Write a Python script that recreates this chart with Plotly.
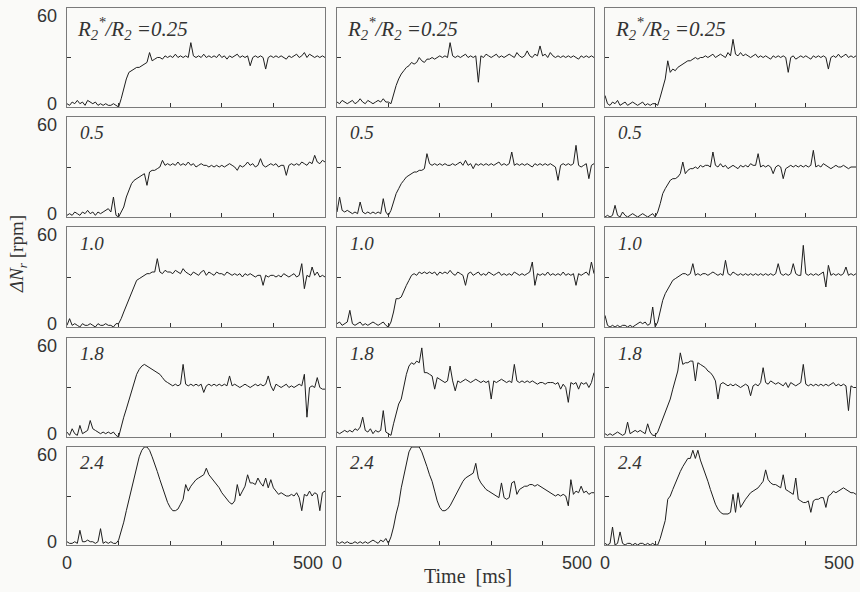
import plotly.graph_objects as go

# Sampling grid of the recorded speed deviation (ms)
time_ms = list(range(0, 501, 5))

# Panel captions: resistance ratio R2*/R2 for each row
ratio_labels = ["0.25", "0.5", "1.0", "1.8", "2.4"]

# Tick marks and labels
y_tick_marks = [30]
y_end_labels = [(0, "0"), (60, "60")]
x_tick_marks = [100, 200, 300, 400]
x_end_labels = [(0, "0"), (500, "500")]

# Speed deviation ΔNr [rpm], three runs (a, b, c) per ratio, sampled every 5 ms
r025_a = [2, 1, 3, 2, 4, 2, 3, 1, 4, 3, 2, 3, 1, 2, 1, 2, 1, 1, 2, 1,
          0, 5, 11, 17, 21, 22, 23, 24, 24, 25, 26, 27, 33, 28, 29, 30, 30, 29, 31, 30,
          31, 30, 32, 30, 31, 30, 31, 30, 39, 31, 30, 31, 30, 32, 30, 31, 30, 31, 30, 32,
          30, 31, 29, 31, 30, 31, 32, 30, 31, 30, 31, 25, 30, 31, 30, 31, 30, 23, 30, 31,
          30, 31, 30, 31, 30, 29, 31, 30, 31, 32, 30, 31, 33, 30, 32, 31, 30, 31, 30, 31, 30]
r025_b = [3, 2, 4, 3, 2, 3, 4, 2, 3, 5, 3, 2, 4, 3, 2, 3, 4, 3, 5, 3,
          3, 2, 8, 13, 17, 20, 22, 24, 25, 27, 26, 27, 30, 28, 27, 29, 29, 30, 29, 30,
          31, 30, 31, 30, 39, 31, 30, 31, 30, 31, 32, 30, 31, 30, 31, 15, 31, 30, 32, 31,
          30, 31, 32, 30, 31, 30, 31, 32, 31, 30, 33, 31, 30, 31, 34, 31, 30, 32, 31, 37,
          31, 32, 30, 33, 31, 30, 31, 30, 31, 30, 31, 30, 31, 30, 29, 31, 30, 31, 30, 31, 30]
r025_c = [7, 2, 1, 3, 2, 4, 1, 2, 3, 1, 2, 3, 2, 1, 2, 3, 1, 2, 1, 2,
          2, 1, 6, 12, 17, 28, 21, 23, 22, 24, 25, 26, 27, 28, 28, 29, 30, 29, 30, 30,
          31, 30, 31, 32, 30, 31, 32, 31, 30, 33, 31, 41, 32, 31, 33, 31, 32, 31, 30, 31,
          32, 30, 31, 30, 31, 30, 29, 31, 30, 31, 30, 31, 30, 21, 30, 31, 29, 30, 31, 30,
          31, 30, 29, 31, 30, 31, 30, 31, 30, 23, 30, 31, 30, 32, 30, 31, 32, 30, 31, 30, 31]

r05_a = [1, 2, 1, 3, 2, 1, 3, 2, 4, 2, 3, 1, 3, 2, 3, 4, 5, 3, 12, 1,
         0, 3, 6, 12, 16, 20, 22, 23, 24, 25, 26, 19, 27, 28, 28, 29, 30, 34, 31, 32,
         31, 32, 31, 33, 31, 32, 31, 33, 31, 32, 30, 31, 32, 31, 31, 30, 31, 30, 31, 30,
         31, 30, 31, 32, 31, 30, 28, 31, 30, 31, 33, 31, 32, 30, 31, 35, 31, 30, 31, 32,
         31, 32, 30, 31, 31, 25, 31, 32, 31, 32, 31, 33, 32, 31, 33, 32, 37, 33, 32, 34, 33]
r05_b = [3, 12, 4, 3, 4, 3, 2, 3, 2, 9, 3, 2, 3, 2, 3, 2, 3, 2, 11, 3,
         1, 4, 9, 14, 17, 20, 22, 24, 25, 26, 27, 27, 28, 28, 29, 38, 32, 31, 32, 31,
         32, 31, 32, 31, 31, 32, 31, 32, 33, 31, 34, 31, 32, 29, 32, 31, 32, 31, 32, 31,
         32, 31, 32, 33, 31, 32, 31, 32, 39, 31, 32, 31, 32, 31, 32, 31, 30, 32, 31, 32,
         31, 32, 31, 32, 31, 30, 22, 31, 32, 31, 32, 31, 32, 43, 31, 30, 31, 32, 23, 31, 32]
r05_c = [0, 1, 0, 1, 7, 1, 0, 3, 1, 0, 1, 2, 1, 0, 1, 2, 1, 0, 1, 2,
         0, 3, 8, 14, 17, 20, 22, 23, 23, 24, 26, 33, 26, 28, 29, 29, 30, 29, 31, 30,
         31, 31, 30, 39, 31, 30, 32, 30, 31, 29, 30, 31, 30, 29, 31, 30, 31, 30, 32, 31,
         31, 38, 30, 31, 30, 31, 30, 26, 30, 31, 30, 23, 29, 30, 31, 30, 31, 30, 31, 30,
         31, 30, 31, 40, 30, 31, 30, 32, 31, 30, 29, 30, 31, 30, 30, 31, 30, 29, 30, 30, 30]

r10_a = [1, 5, 1, 2, 1, 0, 2, 1, 1, 2, 1, 0, 2, 1, 1, 2, 1, 1, 0, 2,
         2, 5, 9, 13, 17, 21, 25, 28, 29, 30, 31, 32, 32, 33, 33, 41, 33, 32, 34, 33,
         33, 32, 34, 33, 32, 35, 33, 32, 31, 33, 32, 31, 33, 34, 31, 33, 32, 31, 33, 32,
         32, 31, 33, 32, 31, 32, 31, 32, 30, 32, 31, 32, 31, 30, 31, 31, 25, 31, 30, 31,
         31, 30, 31, 30, 32, 31, 30, 31, 32, 30, 31, 38, 23, 31, 30, 36, 31, 33, 30, 31, 30]
r10_b = [2, 3, 1, 2, 3, 10, 2, 1, 2, 3, 1, 2, 1, 2, 3, 2, 1, 2, 3, 1,
         0, 3, 9, 17, 17, 18, 22, 25, 28, 31, 32, 31, 33, 32, 33, 32, 33, 32, 33, 31,
         33, 32, 33, 32, 34, 32, 31, 33, 32, 31, 25, 32, 33, 31, 32, 33, 31, 32, 31, 33,
         32, 31, 32, 33, 31, 32, 31, 32, 31, 33, 32, 31, 32, 31, 32, 33, 39, 25, 32, 31,
         32, 31, 33, 31, 32, 31, 32, 31, 33, 31, 32, 31, 32, 25, 32, 31, 32, 33, 31, 39, 32]
r10_c = [7, 1, 0, 1, 0, 1, 0, 1, 1, 0, 1, 0, 1, 2, 3, 2, 3, 1, 2, 12,
         0, 3, 10, 16, 20, 23, 26, 28, 29, 30, 31, 32, 32, 31, 32, 38, 31, 32, 31, 32,
         32, 31, 32, 33, 32, 31, 32, 31, 40, 32, 31, 33, 32, 31, 32, 31, 32, 31, 32, 31,
         32, 31, 32, 31, 32, 31, 32, 31, 32, 38, 32, 31, 32, 31, 32, 38, 32, 31, 31, 49,
         32, 31, 32, 31, 32, 31, 32, 33, 24, 37, 31, 32, 31, 32, 31, 32, 36, 31, 32, 31, 32]

r18_a = [3, 1, 5, 2, 1, 7, 2, 3, 4, 10, 5, 4, 3, 2, 3, 2, 3, 2, 3, 1,
         0, 7, 12, 17, 22, 28, 33, 38, 41, 43, 44, 43, 42, 41, 40, 39, 38, 36, 34, 33,
         32, 31, 32, 31, 32, 44, 32, 31, 32, 31, 32, 31, 32, 27, 31, 32, 31, 32, 31, 32,
         31, 32, 31, 37, 31, 32, 31, 30, 31, 32, 31, 30, 31, 32, 31, 32, 31, 32, 37, 31,
         28, 32, 31, 30, 31, 32, 30, 31, 30, 31, 32, 31, 38, 12, 30, 31, 30, 36, 30, 29, 29]
r18_b = [3, 2, 3, 4, 3, 4, 3, 5, 4, 6, 12, 4, 3, 5, 2, 4, 3, 4, 16, 3,
         2, 1, 8, 14, 20, 23, 31, 38, 43, 45, 44, 46, 45, 54, 39, 39, 38, 37, 29, 36,
         35, 34, 33, 34, 43, 34, 28, 34, 33, 34, 35, 34, 33, 34, 35, 34, 33, 34, 33, 34,
         23, 34, 33, 34, 35, 34, 33, 34, 33, 44, 34, 33, 34, 33, 34, 33, 34, 33, 32, 33,
         33, 32, 33, 33, 33, 32, 33, 29, 32, 30, 21, 33, 32, 33, 29, 33, 32, 33, 30, 33, 39]
r18_c = [2, 1, 2, 1, 2, 3, 2, 1, 2, 9, 2, 3, 4, 3, 4, 3, 2, 8, 3, 1,
         1, 3, 7, 10, 14, 18, 23, 29, 35, 40, 51, 44, 45, 45, 46, 46, 34, 45, 44, 43,
         42, 40, 39, 37, 34, 23, 32, 33, 32, 31, 32, 31, 32, 31, 30, 31, 32, 31, 25, 31,
         32, 31, 33, 42, 33, 32, 34, 33, 32, 33, 32, 31, 33, 30, 33, 32, 31, 32, 33, 44,
         32, 31, 32, 31, 32, 31, 32, 31, 32, 31, 32, 33, 31, 32, 31, 32, 31, 16, 31, 30, 30]

r24_a = [2, 1, 1, 2, 1, 9, 2, 2, 3, 2, 2, 1, 2, 10, 1, 2, 1, 2, 1, 1,
         3, 8, 14, 21, 28, 35, 42, 48, 54, 58, 60, 60, 58, 54, 50, 45, 40, 35, 30, 26,
         23, 21, 21, 22, 25, 28, 37, 33, 36, 38, 40, 41, 42, 43, 47, 43, 41, 39, 37, 35,
         32, 30, 28, 26, 25, 27, 37, 30, 33, 36, 43, 38, 38, 37, 41, 38, 36, 41, 35, 40,
         35, 33, 31, 32, 31, 30, 30, 31, 30, 32, 29, 21, 31, 30, 33, 30, 32, 31, 21, 32, 33]
r24_b = [2, 1, 2, 1, 2, 1, 1, 2, 1, 2, 1, 2, 1, 2, 3, 2, 1, 3, 2, 4,
         1, 5, 11, 19, 25, 35, 43, 51, 57, 60, 60, 60, 60, 57, 53, 48, 43, 39, 33, 27,
         23, 21, 21, 22, 24, 27, 30, 33, 36, 39, 41, 42, 43, 44, 50, 41, 38, 36, 34, 33,
         32, 31, 30, 29, 38, 29, 28, 29, 38, 39, 31, 34, 35, 36, 36, 37, 37, 36, 37, 36,
         35, 34, 33, 32, 31, 30, 31, 30, 31, 30, 24, 40, 31, 33, 32, 36, 32, 33, 31, 32, 32]
r24_c = [1, 0, 1, 11, 0, 1, 8, 1, 0, 1, 1, 0, 1, 0, 1, 1, 0, 1, 0, 1,
         0, 0, 4, 9, 15, 28, 30, 34, 38, 42, 45, 48, 51, 53, 53, 58, 53, 58, 52, 48,
         43, 39, 34, 29, 25, 22, 20, 19, 19, 19, 20, 31, 20, 32, 23, 26, 28, 30, 32, 33,
         34, 35, 37, 39, 46, 40, 38, 37, 37, 36, 35, 43, 34, 33, 32, 31, 41, 28, 27, 26,
         26, 27, 20, 27, 28, 28, 29, 29, 23, 30, 31, 33, 32, 33, 34, 35, 34, 33, 32, 32, 31]

runs = [
    [r025_a, r025_b, r025_c],
    [r05_a, r05_b, r05_c],
    [r10_a, r10_b, r10_c],
    [r18_a, r18_b, r18_c],
    [r24_a, r24_b, r24_c],
]

# Page geometry (pixels)
W, H = 860, 592
col_px = [(67, 325), (337, 594), (605, 856)]
row_px = [(8, 107), (117, 217), (227, 327), (338, 437), (447, 545)]

SERIF = "Liberation Serif, Times New Roman, DejaVu Serif, serif"
SANS = "Liberation Sans, Arial, DejaVu Sans, sans-serif"
INK = "#1e1e1e"
FRAME = "#7a7a7a"
TEXT = "#333"
PAPER = "#fafaf8"

fig = go.Figure()
layout = dict(
    width=W, height=H,
    margin=dict(l=0, r=0, t=0, b=0),
    paper_bgcolor=PAPER, plot_bgcolor=PAPER,
    showlegend=False,
)
annotations = []

for r, row_runs in enumerate(runs):
    for c, values in enumerate(row_runs):
        k = r * 3 + c + 1
        s = "" if k == 1 else str(k)
        fig.add_trace(go.Scatter(
            x=time_ms, y=values, mode="lines",
            line=dict(color=INK, width=1),
            xaxis="x" + s, yaxis="y" + s,
            hoverinfo="skip",
        ))
        x0, x1 = col_px[c]
        y0, y1 = row_px[r]
        layout["xaxis" + s] = dict(
            domain=[x0 / W, x1 / W], range=[0, 500], anchor="y" + s,
            showline=True, mirror=True, linecolor=FRAME, linewidth=1,
            ticks="inside", ticklen=4, tickcolor=TEXT, tickwidth=1,
            tickvals=x_tick_marks, showticklabels=False,
            showgrid=False, zeroline=False,
        )
        layout["yaxis" + s] = dict(
            domain=[1 - y1 / H, 1 - y0 / H], range=[0, 60], anchor="x" + s,
            showline=True, mirror=True, linecolor=FRAME, linewidth=1,
            ticks="inside", ticklen=4, tickcolor=TEXT, tickwidth=1,
            tickvals=y_tick_marks, showticklabels=False,
            showgrid=False, zeroline=False,
        )

        # value labels on the left of the first column
        if c == 0:
            for tv, tt in y_end_labels:
                annotations.append(dict(
                    text=tt, xref="x" + s + " domain", yref="y" + s,
                    x=0, y=tv, xanchor="right", yanchor="middle",
                    xshift=-8, yshift=-8 if tv == 60 else 3, showarrow=False,
                    font=dict(family=SANS, size=18, color=TEXT),
                ))

        # ratio caption inside each panel
        if r == 0:
            cap = "<i>R<sub>2</sub><sup>*</sup>/R<sub>2</sub> =" + ratio_labels[r] + "</i>"
            cx, cy, fs = 8 / (x1 - x0), 0.79, 21
        else:
            cap = "<i>" + ratio_labels[r] + "</i>"
            cx, cy, fs = 11 / (x1 - x0), 0.84, 19
        annotations.append(dict(
            text=cap, xref="x" + s + " domain", yref="y" + s + " domain",
            x=cx, y=cy, xanchor="left", yanchor="middle", showarrow=False,
            font=dict(family=SERIF, size=fs, color=TEXT),
        ))

        # end labels of the time axis under the bottom row
        if r == len(runs) - 1:
            for tv, tt in x_end_labels:
                annotations.append(dict(
                    text=tt, xref="x" + s, yref="y" + s + " domain",
                    x=tv, y=0, xanchor="center" if tv == 0 else "right",
                    yanchor="middle", yshift=-18, showarrow=False,
                    font=dict(family=SANS, size=18, color=TEXT),
                ))

annotations.append(dict(
    text="<i>ΔN<sub>r</sub></i> [rpm]", xref="paper", yref="paper",
    x=18 / W, y=1 - 254 / H, xanchor="center", yanchor="middle",
    textangle=-90, showarrow=False,
    font=dict(family=SERIF, size=19, color=TEXT),
))
annotations.append(dict(
    text="Time\u2002[ms]", xref="paper", yref="paper",
    x=468 / W, y=1 - 576 / H, xanchor="center", yanchor="middle",
    showarrow=False, font=dict(family=SERIF, size=20, color=TEXT),
))

layout["annotations"] = annotations
fig.update_layout(**layout)
fig.write_html("out.html")
